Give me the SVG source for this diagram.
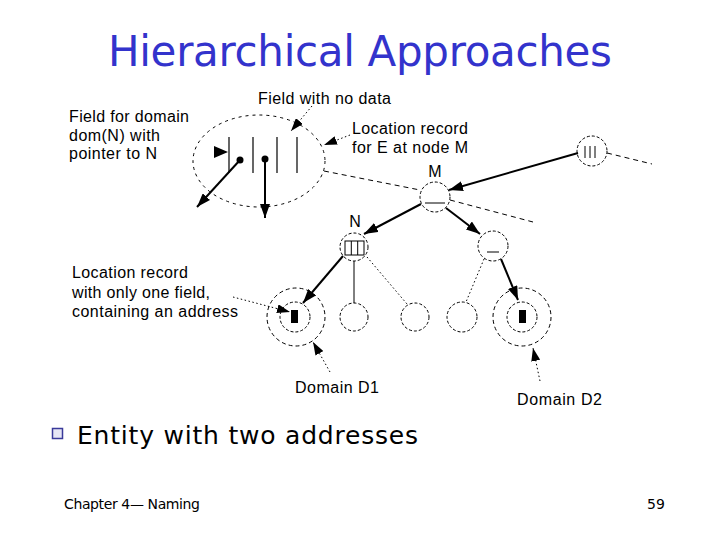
<svg xmlns="http://www.w3.org/2000/svg" width="720" height="540" viewBox="0 0 720 540">
<style>
.lbl{font-family:"Liberation Sans",Arial,sans-serif;font-size:16px;fill:#000}
.nl{font-family:"Liberation Sans",Arial,sans-serif;font-size:16px;fill:#000;text-anchor:middle}
.node{fill:none;stroke:#000;stroke-width:1;stroke-dasharray:3,2}
.dom{fill:none;stroke:#000;stroke-width:1;stroke-dasharray:4,3}
.thick{stroke:#000;stroke-width:2;fill:none}
.thin{stroke:#000;stroke-width:1;fill:none}
.dot{stroke:#000;stroke-width:1;fill:none;stroke-dasharray:1.5,2.5}
.dash{stroke:#000;stroke-width:1;fill:none;stroke-dasharray:5,4}
.fld{stroke:#000;stroke-width:1.2}
</style>
<defs>
<marker id="ah" viewBox="0 0 14 10" refX="14" refY="5" markerWidth="14" markerHeight="10" markerUnits="userSpaceOnUse" orient="auto"><path d="M0,0 L14,5 L0,10 z" fill="#000"/></marker>
<marker id="ahs" viewBox="0 0 13 9" refX="13" refY="4.5" markerWidth="13" markerHeight="9" markerUnits="userSpaceOnUse" orient="auto"><path d="M0,0 L13,4.5 L0,9 z" fill="#000"/></marker>
</defs>
<rect width="720" height="540" fill="#fff"/>
<text x="360" y="66" text-anchor="middle" font-family="'DejaVu Sans',sans-serif" font-size="42" fill="#3333CC" textLength="504">Hierarchical Approaches</text>

<g id="zoom-ellipse">
<ellipse cx="259" cy="161" rx="66" ry="46" fill="none" stroke="#000" stroke-width="1" stroke-dasharray="3,4"/>
<line class="fld" x1="229" y1="137" x2="229" y2="173"/>
<line class="fld" x1="253" y1="137" x2="253" y2="173"/>
<line class="fld" x1="277" y1="137" x2="277" y2="173"/>
<line class="fld" x1="297" y1="137" x2="297" y2="173"/>
<circle cx="240" cy="160" r="3.5" fill="#000"/>
<circle cx="265" cy="159" r="3.5" fill="#000"/>
<path d="M214,146 L228,152 L214,158 z" fill="#000"/>
</g>

<g id="node-M">
<circle class="node" cx="435" cy="197" r="15"/>
<line class="thin" x1="425" y1="203" x2="445" y2="203"/>
<text class="nl" x="435" y="177">M</text>
</g>
<g id="node-top-right">
<circle class="node" cx="592" cy="151" r="15"/>
<line class="thin" x1="585" y1="146" x2="585" y2="158"/>
<line class="thin" x1="590" y1="146" x2="590" y2="158"/>
<line class="thin" x1="595" y1="146" x2="595" y2="158"/>
</g>
<g id="node-N">
<circle class="node" cx="354" cy="247" r="14"/>
<rect x="345" y="241" width="19" height="14" fill="none" stroke="#000" stroke-width="1"/>
<line class="thin" x1="351.3" y1="241" x2="351.3" y2="255"/>
<line class="thin" x1="357.7" y1="241" x2="357.7" y2="255"/>
<text class="nl" x="355" y="227">N</text>
</g>
<g id="node-R">
<circle class="node" cx="493" cy="246" r="15"/>
<line class="thin" x1="487" y1="252" x2="499" y2="252"/>
</g>
<g id="leaf-1">
<circle class="dom" cx="296" cy="317" r="29"/>
<circle class="node" cx="295" cy="317" r="15"/>
<rect x="291" y="310" width="7" height="13" fill="#000"/>
</g>
<g id="leaf-2"><circle class="node" cx="354" cy="317" r="14"/></g>
<g id="leaf-3"><circle class="node" cx="415" cy="317" r="14"/></g>
<g id="leaf-4"><circle class="node" cx="462" cy="317" r="15"/></g>
<g id="leaf-5">
<circle class="dom" cx="522" cy="317" r="29"/>
<circle class="node" cx="522" cy="317" r="15"/>
<rect x="519" y="310" width="7" height="13" fill="#000"/>
</g>

<g id="connectors">
<line class="thick" x1="240" y1="160" x2="197" y2="207" marker-end="url(#ah)"/>
<line class="thick" x1="265" y1="159" x2="265" y2="218" marker-end="url(#ah)"/>
<line class="thick" x1="578" y1="153" x2="449" y2="190" marker-end="url(#ah)"/>
<line class="thick" x1="421" y1="204" x2="364" y2="234" marker-end="url(#ah)"/>
<line class="thick" x1="446" y1="208" x2="480" y2="234" marker-end="url(#ah)"/>
<line class="thick" x1="343" y1="256" x2="303" y2="303" marker-end="url(#ah)"/>
<line class="thick" x1="501" y1="259" x2="518" y2="300" marker-end="url(#ah)"/>
<line class="thin" x1="354" y1="261" x2="354" y2="303"/>
<line class="dot" x1="367" y1="257" x2="407" y2="304"/>
<line class="dot" x1="484" y1="259" x2="466" y2="302"/>
<line class="dash" x1="324" y1="171" x2="420" y2="190"/>
<line class="dash" x1="450" y1="200" x2="533" y2="222"/>
<line class="dash" x1="607" y1="153" x2="652" y2="164"/>
<line class="dot" x1="312" y1="106" x2="291" y2="131" marker-end="url(#ahs)"/>
<line class="dot" x1="350" y1="135" x2="324" y2="145" marker-end="url(#ahs)"/>
<line class="dot" x1="233" y1="297" x2="290" y2="312" marker-end="url(#ahs)"/>
<line class="dot" x1="330" y1="372" x2="313" y2="342" marker-end="url(#ahs)"/>
<line class="dot" x1="540" y1="381" x2="533" y2="348" marker-end="url(#ahs)"/>
</g>

<g id="labels">
<text class="lbl" x="258" y="104" textLength="133">Field with no data</text>
<text class="lbl" x="69" y="122" textLength="120">Field for domain</text>
<text class="lbl" x="69" y="141" textLength="91">dom(N) with</text>
<text class="lbl" x="69" y="159" textLength="88">pointer to N</text>
<text class="lbl" x="352" y="134" textLength="116">Location record</text>
<text class="lbl" x="352" y="153" textLength="116">for E at node M</text>
<text class="lbl" x="72" y="278" textLength="116">Location record</text>
<text class="lbl" x="72" y="298" textLength="138">with only one field,</text>
<text class="lbl" x="72" y="317" textLength="166">containing an address</text>
<text class="lbl" x="295" y="393" textLength="84">Domain D1</text>
<text class="lbl" x="517" y="405" textLength="85">Domain D2</text>
</g>

<g id="bullet">
<rect x="52.5" y="428.5" width="10" height="10" fill="#E6E6F5" stroke="#3A3A9A" stroke-width="1.5"/>
<text x="77" y="444" font-family="'DejaVu Sans',sans-serif" font-size="25" fill="#000" textLength="341">Entity with two addresses</text>
</g>
<g id="footer">
<text x="64" y="509" font-family="'DejaVu Sans',sans-serif" font-size="14" fill="#000" textLength="136">Chapter 4— Naming</text>
<text x="647" y="509" font-family="'DejaVu Sans',sans-serif" font-size="14" fill="#000">59</text>
</g>
</svg>
